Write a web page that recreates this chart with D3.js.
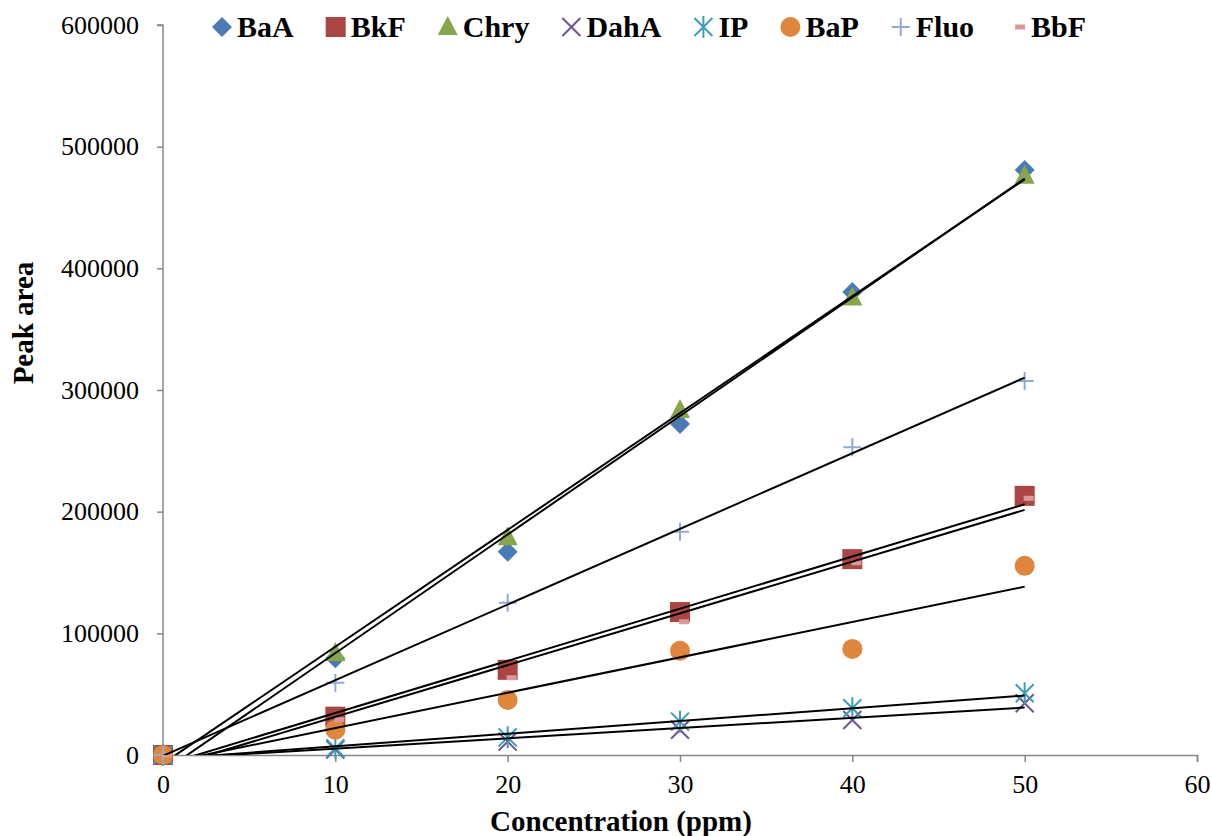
<!DOCTYPE html>
<html>
<head>
<meta charset="utf-8">
<script src="https://cdn.jsdelivr.net/npm/d3@7"></script>
<style>
  body { margin: 0; background: #fff; }
  text { font-family: "Liberation Serif", "Times New Roman", Times, serif; }
</style>
</head>
<body>
<svg id="chart"></svg>
<script>
// concentrations (ppm)
const concentrations = [0, 10, 20, 30, 40, 50];

// peak areas
const baA  = [0, 79500, 167000, 272000, 380500, 480800];
const bkF  = [0, 31500, 70000, 117500, 161000, 213000];
const chry = [0, 83800, 179000, 283500, 376000, 476000];
const dahA = [0, 4400, 11000, 20800, 28800, 42500];
const ip   = [0, 5500, 14500, 27400, 38400, 50700];
const baP  = [0, 20800, 45200, 85700, 87200, 155500];
const fluo = [0, 59400, 125200, 183500, 253000, 307400];
const bbF  = [0, 29000, 63500, 109500, 158000, 211000];

const seriesNames = ["BaA", "BkF", "Chry", "DahA", "IP", "BaP", "Fluo", "BbF"];
const seriesValues = [baA, bkF, chry, dahA, ip, baP, fluo, bbF];
const seriesColors = ["#4a7bb7", "#ab4542", "#87a64b", "#6e5496", "#3f9cb8", "#df853c", "#93a9d3", "#d9999a"];
const seriesMarkers = ["diamond", "square", "triangle", "x", "star", "circle", "plus", "dash"];

const xTicks = [0, 10, 20, 30, 40, 50, 60];
const yTicks = [0, 100000, 200000, 300000, 400000, 500000, 600000];

let width = 1212;
let height = 836;
let plotLeft = 163, plotRight = 1197, plotTop = 25, plotBottom = 755;
let serif = '"Liberation Serif", "Times New Roman", Times, serif';

let svg = d3.select("#chart").attr("width", width).attr("height", height);

let x = d3.scaleLinear().domain([0, 60]).range([plotLeft, plotRight]);
let y = d3.scaleLinear().domain([0, 600000]).range([plotBottom, plotTop]);

let axisColor = "#868686";

// axes
let yAxis = svg.append("g")
    .attr("transform", "translate(" + plotLeft + ",0)")
    .call(d3.axisLeft(y).tickValues(yTicks).tickSize(6).tickPadding(18).tickFormat(d => d));

let xAxis = svg.append("g")
    .attr("transform", "translate(0," + plotBottom + ")")
    .call(d3.axisBottom(x).tickValues(xTicks).tickSize(7).tickPadding(13).tickFormat(d => d));

[xAxis, yAxis].forEach(function (ax) {
    ax.attr("font-family", serif);
    ax.selectAll(".domain").attr("stroke", axisColor).attr("stroke-width", 1.5);
    ax.selectAll(".tick line").attr("stroke", axisColor).attr("stroke-width", 1.5);
    ax.selectAll("text")
        .attr("fill", "#000")
        .style("font-family", serif)
        .style("font-size", "26px");
});
yAxis.select(".domain").attr("d", "M0," + plotBottom + "V" + plotTop + "H-6");

// axis titles
svg.append("text")
    .attr("x", 621)
    .attr("y", 831)
    .attr("text-anchor", "middle")
    .attr("font-weight", "bold")
    .attr("font-size", "29px")
    .text("Concentration (ppm)");

svg.append("text")
    .attr("transform", "translate(33,323) rotate(-90)")
    .attr("text-anchor", "middle")
    .attr("font-weight", "bold")
    .attr("font-size", "29px")
    .text("Peak area");

// marker shapes
function drawMarker(g, type, color) {
    if (type === "diamond") {
        g.append("path").attr("d", "M0,-10L10,0L0,10L-10,0Z").attr("fill", color);
    } else if (type === "square") {
        g.append("rect").attr("x", -10).attr("y", -10).attr("width", 20).attr("height", 20).attr("fill", color);
    } else if (type === "triangle") {
        g.append("path").attr("d", "M0,-11L10,8L-10,8Z").attr("fill", color);
    } else if (type === "circle") {
        g.append("circle").attr("r", 10).attr("fill", color);
    } else if (type === "x") {
        g.append("path").attr("d", "M-9,-9L9,9M9,-9L-9,9").attr("stroke", color).attr("stroke-width", 2).attr("fill", "none");
    } else if (type === "star") {
        g.append("path").attr("d", "M-9,-9L9,9M9,-9L-9,9M0,-11V11").attr("stroke", color).attr("stroke-width", 2).attr("fill", "none");
    } else if (type === "plus") {
        g.append("path").attr("d", "M-9,0H9M0,-9V9").attr("stroke", color).attr("stroke-width", 2).attr("fill", "none");
    } else if (type === "dash") {
        g.append("rect").attr("x", -1).attr("y", -2.5).attr("width", 10).attr("height", 5).attr("fill", color);
    }
}

// markers
seriesNames.forEach(function (name, i) {
    let g = svg.append("g").attr("class", "series-" + name);
    seriesValues[i].forEach(function (v, j) {
        let m = g.append("g").attr("transform", "translate(" + x(concentrations[j]) + "," + y(v) + ")");
        drawMarker(m, seriesMarkers[i], seriesColors[i]);
    });
});

// linear trendlines, clipped to the plot area
svg.append("clipPath").attr("id", "plot-clip")
    .append("rect").attr("x", plotLeft).attr("y", plotTop).attr("width", plotRight - plotLeft).attr("height", plotBottom - plotTop);

let trendGroup = svg.append("g").attr("clip-path", "url(#plot-clip)");

function fitLine(xs, ys) {
    let mx = d3.mean(xs), my = d3.mean(ys);
    let sxy = d3.sum(xs, (v, k) => (v - mx) * (ys[k] - my));
    let sxx = d3.sum(xs, v => (v - mx) * (v - mx));
    let slope = sxy / sxx;
    return { slope: slope, intercept: my - slope * mx };
}

seriesValues.forEach(function (vals) {
    let fit = fitLine(concentrations, vals);
    let x0 = d3.min(concentrations), x1 = d3.max(concentrations);
    trendGroup.append("line")
        .attr("x1", x(x0)).attr("y1", y(fit.intercept + fit.slope * x0))
        .attr("x2", x(x1)).attr("y2", y(fit.intercept + fit.slope * x1))
        .attr("stroke", "#000")
        .attr("stroke-width", 2);
});

// legend
let legend = svg.append("g");
let cursor = 222;
seriesNames.forEach(function (name, i) {
    let m = legend.append("g").attr("transform", "translate(" + cursor + ",27)");
    drawMarker(m, seriesMarkers[i], seriesColors[i]);
    let t = legend.append("text")
        .attr("x", cursor + 15)
        .attr("y", 37)
        .attr("font-weight", "bold")
        .attr("font-size", "30px")
        .text(name);
    cursor = cursor + 15 + t.node().getComputedTextLength() + 42;
});
</script>
</body>
</html>
